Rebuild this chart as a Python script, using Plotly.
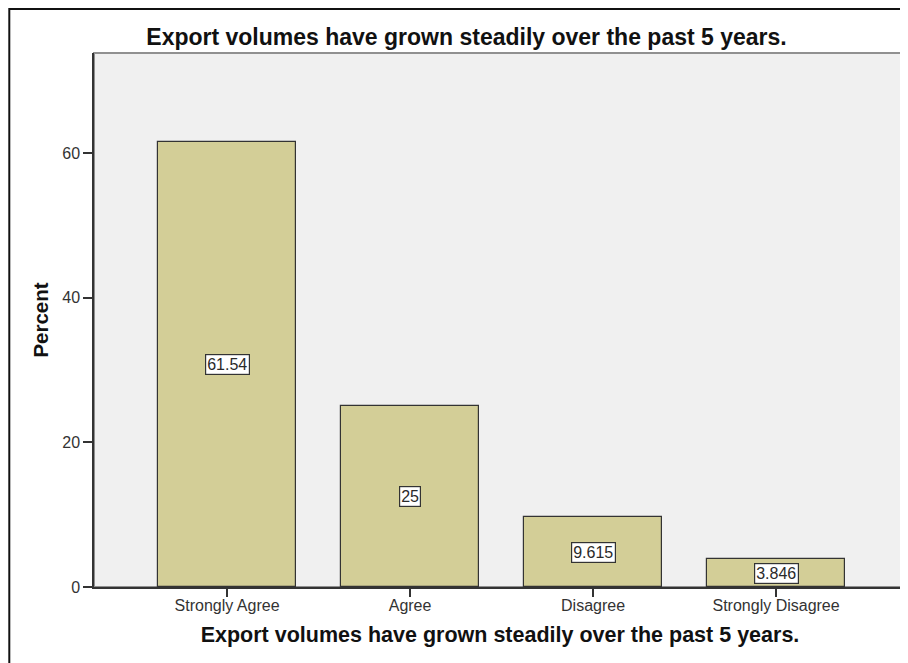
import plotly.graph_objects as go

categories = ["Strongly Agree", "Agree", "Disagree", "Strongly Disagree"]
percents = [61.54, 25.0, 9.615, 3.846]
labels = ["61.54", "25", "9.615", "3.846"]
y_ticks = [0, 20, 40, 60]
title_text = "Export volumes have grown steadily over the past 5 years."

# The page body has an 8px margin, so the figure is drawn 8px smaller and
# all pixel positions are taken relative to that offset.
OFF = 8
W, H = 908 - OFF, 663 - OFF
plot_left, plot_right, plot_top, plot_bottom = 94 - OFF, 906 - OFF, 53 - OFF, 587 - OFF
L, R, T, B = plot_left, W - plot_right, plot_top, H - plot_bottom
PW, PH = plot_right - plot_left, plot_bottom - plot_top

FONT = "Liberation Sans"

fig = go.Figure()
fig.add_trace(go.Bar(
    x=categories, y=percents, width=0.754,
    marker=dict(color="#D3CE97", line=dict(color="#333333", width=1.2)),
    hoverinfo="x+y", showlegend=False,
))

annotations = []
for c, v, t in zip(categories, percents, labels):
    annotations.append(dict(
        x=c, y=v / 2, xref="x", yref="y", text=t, showarrow=False,
        font=dict(family=FONT, size=16, color="#2a2a2a"),
        bgcolor="white", bordercolor="#333333", borderwidth=1.2, borderpad=1,
    ))

border_x = (9.3 - OFF - L) / PW
border_y = (plot_bottom - 1) / PH

fig.update_layout(
    width=W, height=H,
    margin=dict(l=L, r=R, t=T, b=B, pad=0),
    paper_bgcolor="white", plot_bgcolor="#F0F0F0",
    bargap=0,
    title=dict(text=title_text, x=(466.5 - OFF) / W, xref="container",
               xanchor="center", y=1 - (37 - OFF) / H, yref="container",
               yanchor="middle",
               font=dict(family=FONT, size=23, color="#111111", weight="bold")),
    annotations=annotations,
    shapes=[
        dict(type="rect", xref="paper", yref="paper", x0=0, x1=1, y0=0, y1=1,
             line=dict(color="#909090", width=2), layer="below"),
        dict(type="rect", xref="paper", yref="paper",
             x0=border_x, x1=1.2, y0=-0.3, y1=border_y,
             line=dict(color="#111111", width=2), layer="above"),
    ],
)

fig.update_xaxes(
    type="category", range=[-0.727, 3.71],
    showline=True, linecolor="#333333", linewidth=1.5,
    ticks="outside", ticklen=8, tickcolor="#333333", tickwidth=1.5,
    ticklabelstandoff=-5,
    tickfont=dict(family=FONT, size=16, color="#333333"),
    showgrid=False, zeroline=False,
    title=dict(text=title_text, standoff=14,
               font=dict(family=FONT, size=21.5, color="#111111", weight="bold")),
)
fig.update_yaxes(
    range=[0, 73.85], tickvals=y_ticks,
    showline=True, linecolor="#333333", linewidth=1.5,
    ticks="outside", ticklen=9, tickcolor="#333333", tickwidth=1.5,
    tickfont=dict(family=FONT, size=16, color="#333333"),
    showgrid=False, zeroline=False,
    title=dict(text="Percent", standoff=8,
               font=dict(family=FONT, size=20.5, color="#111111", weight="bold")),
)

fig.write_html("out.html")
